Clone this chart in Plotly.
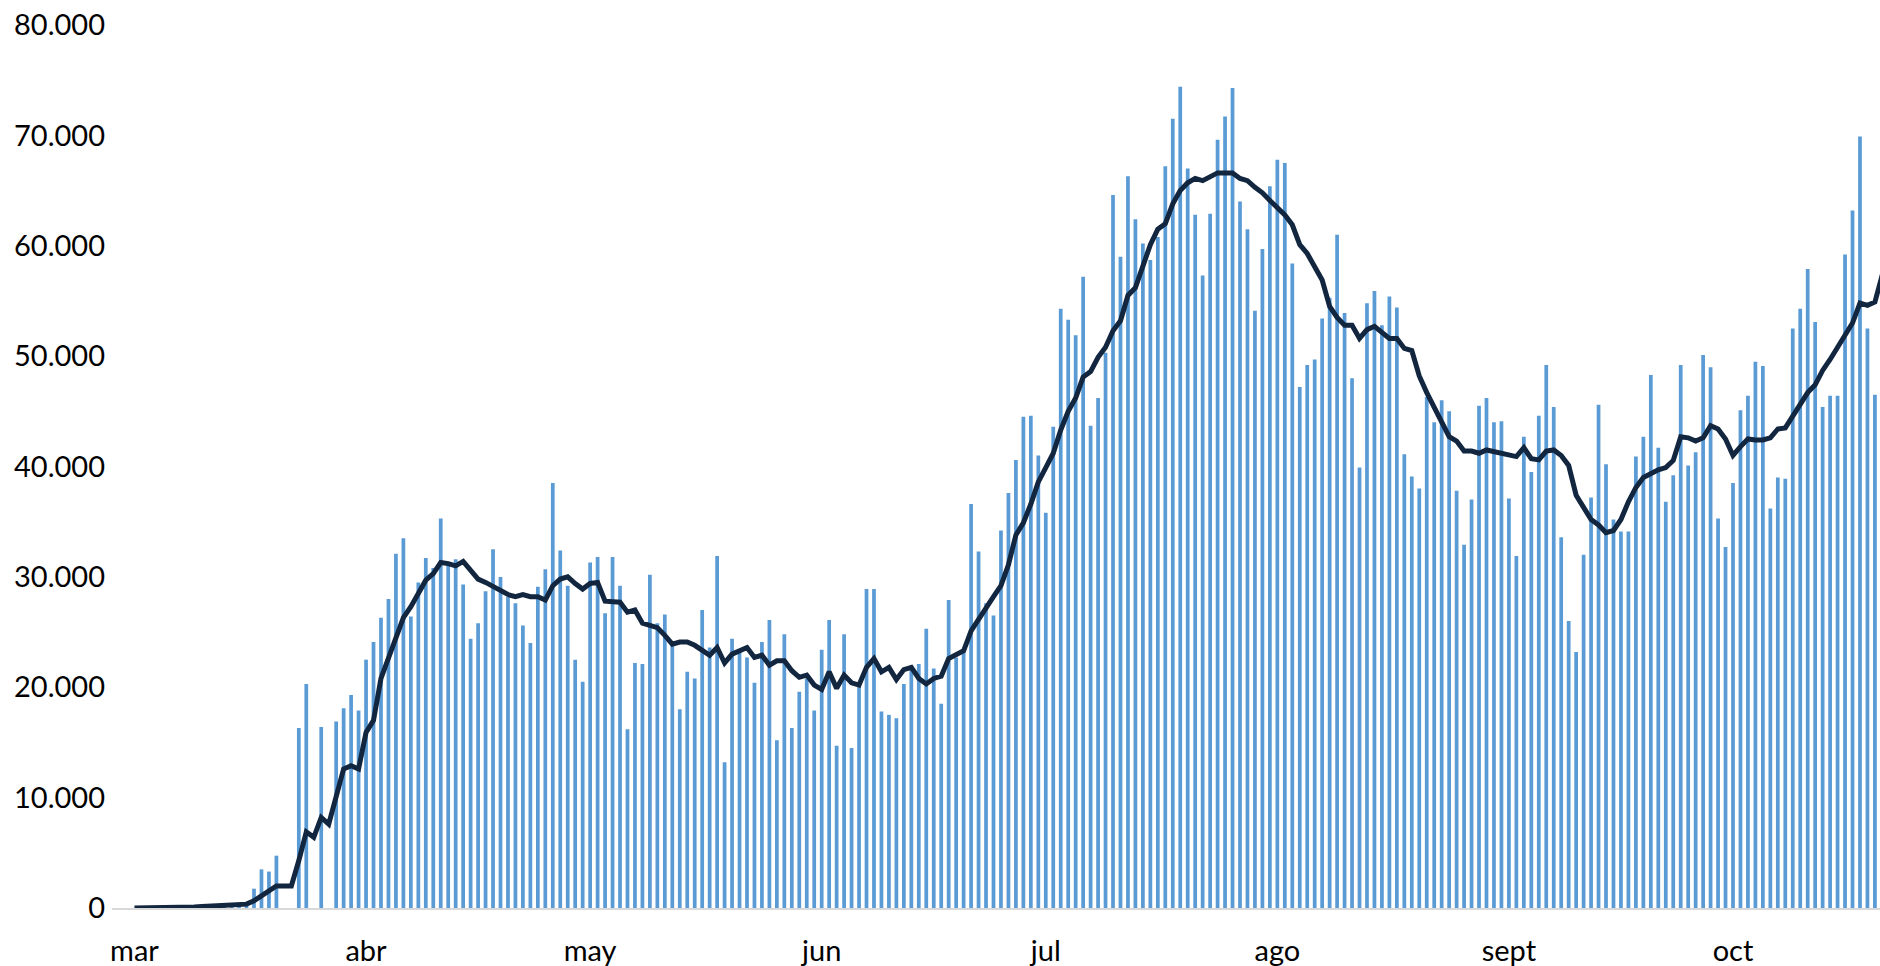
import plotly.graph_objects as go
import pandas as pd

# ---- data (daily values, in thousands) ----
start_date = "2020-03-01"
month_ticks = ["2020-03-01", "2020-04-01", "2020-05-01", "2020-06-01",
               "2020-07-01", "2020-08-01", "2020-09-01", "2020-10-01"]
month_labels = ["mar", "abr", "may", "jun", "jul", "ago", "sept", "oct"]

daily_mar = [0, 0, 0, 0, 0, 0, 0, 0, 0, 0.01, 0.05, 0.1, 0.3, 0.4, 0.4, 0.45,
             1.75, 3.5, 3.3, 4.74, 0, 0, 16.3, 20.3, 0, 16.4, 0, 16.9, 18.1, 19.3, 17.9]
daily_apr = [22.5, 24.1, 26.3, 28.0, 32.1, 33.5, 26.4, 29.5, 31.7, 30.8, 35.3, 31.1, 31.6, 29.3, 24.4,
             25.8, 28.7, 32.5, 30.0, 28.2, 27.6, 25.6, 24.0, 29.1, 30.7, 38.5, 32.4, 29.2, 22.5, 20.5]
daily_may = [31.3, 31.8, 26.7, 31.8, 29.2, 16.2, 22.2, 22.1, 30.2, 25.8, 26.6, 24.0, 18.0, 21.4, 20.8,
             27.0, 23.6, 31.9, 13.2, 24.4, 23.2, 22.7, 20.4, 24.1, 26.1, 15.2, 24.8, 16.3, 19.6, 20.8, 17.9]
daily_jun = [23.4, 26.1, 14.7, 24.8, 14.5, 20.2, 28.9, 28.9, 17.8, 17.5, 17.2, 20.3, 21.9, 22.1, 25.3,
             21.7, 18.5, 27.9, 22.7, 23.3, 36.6, 32.3, 27.6, 26.5, 34.2, 37.6, 40.6, 44.5, 44.6, 41.0]
daily_jul = [35.8, 43.6, 54.3, 53.3, 51.9, 57.2, 43.7, 46.2, 50.3, 64.6, 59.0, 66.3, 62.4, 60.2, 58.7,
             60.8, 67.2, 71.5, 74.4, 67.0, 62.8, 57.3, 62.9, 69.6, 71.7, 74.3, 64.0, 61.5, 54.1, 59.7, 65.4]
daily_ago = [67.8, 67.5, 58.4, 47.2, 49.2, 49.7, 53.4, 55.3, 61.0, 53.9, 48.0, 39.9, 54.8, 55.9, 52.8,
             55.4, 54.4, 41.1, 39.1, 38.0, 46.3, 44.0, 46.0, 45.0, 37.8, 32.9, 37.0, 45.5, 46.2, 44.0, 44.1]
daily_sep = [37.1, 31.9, 42.7, 39.5, 44.6, 49.2, 45.4, 33.6, 26.0, 23.2, 32.0, 37.2, 45.6, 40.2, 35.2,
             34.1, 34.1, 40.9, 42.7, 48.3, 41.7, 36.8, 39.2, 49.2, 40.1, 41.3, 50.1, 49.0, 35.3, 32.7]
daily_oct = [38.5, 45.1, 46.4, 49.5, 49.1, 36.2, 39.0, 38.9, 52.5, 54.3, 57.9, 53.1, 45.4, 46.4, 46.4,
             59.2, 63.2, 69.9, 52.5, 46.5]

avg_mar = [0, 0, 0, 0, 0, 0.02, 0.05, 0.08, 0.1, 0.13, 0.17, 0.2, 0.25, 0.28, 0.3, 0.35,
           0.66, 1.1, 1.6, 2.0, 2.0, 2.0, 4.3, 6.9, 6.4, 8.2, 7.6, 10.0, 12.6, 12.9, 12.6]
avg_apr = [15.9, 17.0, 20.8, 22.7, 24.5, 26.3, 27.3, 28.6, 29.7, 30.3, 31.3, 31.2, 31.0, 31.4, 30.6,
           29.8, 29.5, 29.1, 28.8, 28.4, 28.2, 28.4, 28.2, 28.2, 27.9, 29.2, 29.8, 30.0, 29.4, 28.9]
avg_may = [29.4, 29.5, 27.8, 27.8, 27.7, 26.8, 27.0, 25.8, 25.6, 25.4, 24.7, 23.9, 24.1, 24.1, 23.8,
           23.3, 22.9, 23.6, 22.2, 23.0, 23.3, 23.6, 22.7, 22.9, 22.0, 22.4, 22.4, 21.5, 20.9, 21.1, 20.2]
avg_jun = [19.8, 21.4, 19.9, 21.1, 20.4, 20.2, 21.8, 22.6, 21.4, 21.8, 20.7, 21.6, 21.8, 20.8, 20.3,
           20.8, 21.0, 22.6, 22.9, 23.3, 25.1, 26.2, 27.1, 28.2, 29.2, 31.1, 33.8, 34.9, 36.6, 38.6]
avg_jul = [39.9, 41.2, 43.3, 45.0, 46.2, 48.1, 48.6, 49.9, 50.8, 52.3, 53.2, 55.5, 56.2, 58.1, 60.1,
           61.5, 62.0, 63.8, 65.0, 65.7, 66.1, 65.9, 66.2, 66.6, 66.6, 66.6, 66.1, 65.9, 65.3, 64.8, 64.1]
avg_ago = [63.5, 62.8, 61.9, 60.1, 59.3, 58.0, 56.9, 54.5, 53.5, 52.8, 52.8, 51.6, 52.4, 52.7, 52.2,
           51.6, 51.6, 50.7, 50.5, 48.2, 46.7, 45.4, 44.0, 42.7, 42.3, 41.4, 41.4, 41.2, 41.5, 41.35, 41.2]
avg_sep = [41.0, 40.9, 41.7, 40.7, 40.6, 41.4, 41.5, 41.0, 40.1, 37.4, 36.3, 35.2, 34.7, 34.0, 34.2,
           35.2, 36.8, 38.1, 39.0, 39.4, 39.7, 39.9, 40.55, 42.7, 42.6, 42.3, 42.6, 43.7, 43.4, 42.5]
avg_oct = [41.0, 41.8, 42.5, 42.4, 42.4, 42.6, 43.4, 43.5, 44.5, 45.7, 46.7, 47.4, 48.7, 49.7, 50.8,
           51.7, 53.0, 54.8, 54.6, 54.9, 57.4]

daily = daily_mar + daily_apr + daily_may + daily_jun + daily_jul + daily_ago + daily_sep + daily_oct
avg7 = avg_mar + avg_apr + avg_may + avg_jun + avg_jul + avg_ago + avg_sep + avg_oct

dates = pd.date_range(start_date, periods=max(len(daily), len(avg7)), freq="D")
daily_vals = [v * 1000 for v in daily]
avg_vals = [v * 1000 for v in avg7]

# ---- figure ----
t0 = pd.Timestamp(start_date)
x_range = [t0 + pd.Timedelta(days=-3.01), t0 + pd.Timedelta(days=233.68)]

fig = go.Figure()
fig.add_trace(go.Bar(
    x=dates[:len(daily_vals)], y=daily_vals,
    marker=dict(color="#5B9BD5", line=dict(width=0)),
    hoverinfo="x+y", showlegend=False,
))
fig.add_trace(go.Scatter(
    x=dates[:len(avg_vals)], y=avg_vals, mode="lines",
    line=dict(color="#12263F", width=5),
    hoverinfo="x+y", showlegend=False,
))

font_family = "Lato, 'Open Sans', sans-serif"
fig.update_layout(
    width=1880, height=966,
    margin=dict(l=112, r=0, t=25, b=58, pad=0, autoexpand=False),
    paper_bgcolor="white", plot_bgcolor="white",
    bargap=0.5,
    separators=",.",
    font=dict(family=font_family, size=29, color="#000000"),
    xaxis=dict(
        type="date", range=x_range, automargin=False,
        tickmode="array", tickvals=month_ticks, ticktext=month_labels,
        showgrid=False, zeroline=False,
        showline=True, linecolor="#D9D9D9", linewidth=2,
        ticks="", ticklabelstandoff=16,
        tickfont=dict(family=font_family, size=29, color="#000000"),
    ),
    yaxis=dict(
        range=[0, 80000], dtick=10000, tickformat=",d", automargin=False,
        showgrid=False, zeroline=False, showline=False,
        ticks="", ticklabelstandoff=6,
        tickfont=dict(family=font_family, size=29, color="#000000"),
    ),
)

fig.write_html("out.html", config={"displayModeBar": False},
               post_script="document.body.style.margin='0px';document.body.style.overflow='hidden';")
